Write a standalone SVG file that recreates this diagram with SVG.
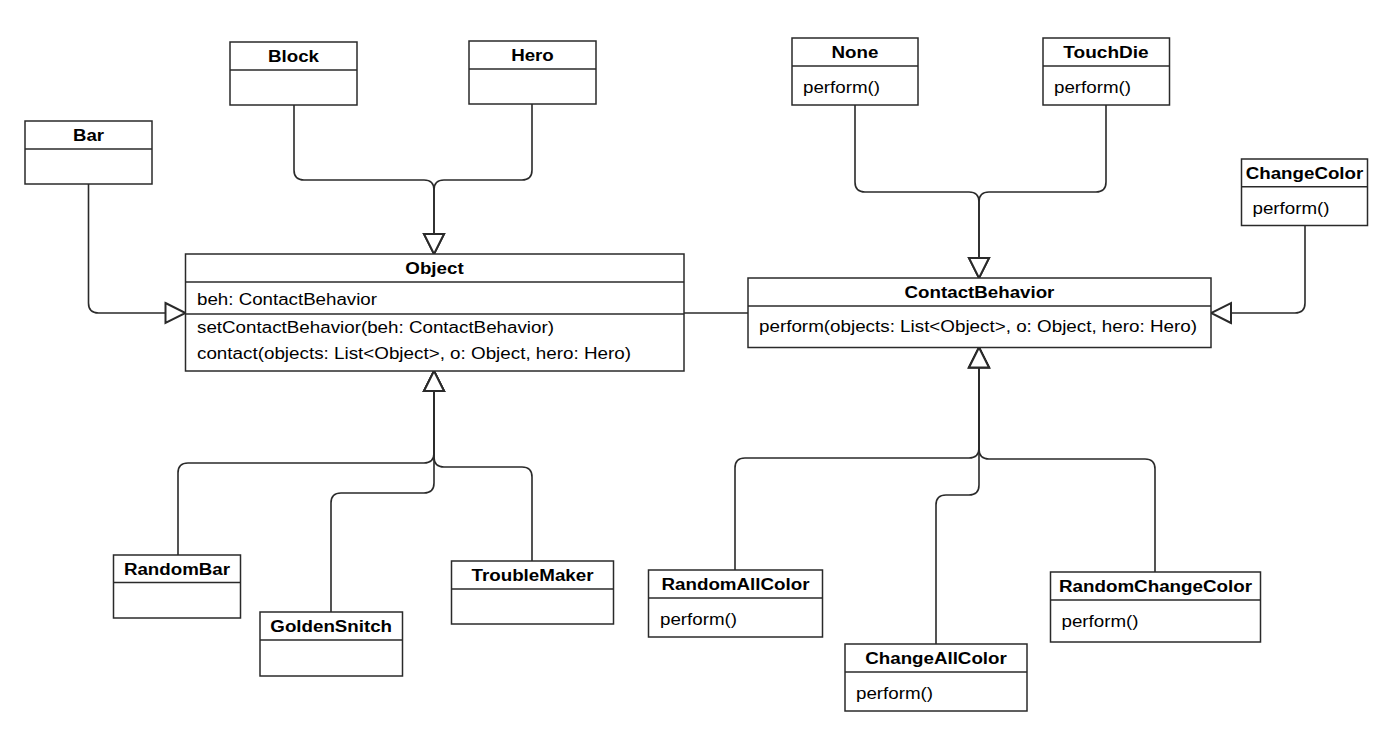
<svg xmlns="http://www.w3.org/2000/svg" width="1382" height="738" viewBox="0 0 1382 738">
<style>
  .box { fill: #ffffff; stroke: #2a2a2a; stroke-width: 1.5; }
  .div { stroke: #2a2a2a; stroke-width: 1.5; fill: none; }
  .t { font-family: "Liberation Sans", Arial, sans-serif; font-size: 16px; fill: #000; }
  .title { font-weight: bold; text-anchor: middle; }
  .edge { fill: none; stroke: #2a2a2a; stroke-width: 1.6; }
  .gen { marker-end: url(#tri); }
</style>
<defs>
  <marker id="tri" markerUnits="userSpaceOnUse" markerWidth="24" markerHeight="24" viewBox="-2 -2 24 24" refX="20" refY="10" orient="auto">
    <path d="M0,0 L20,10 L0,20 Z" fill="#ffffff" stroke="#2a2a2a" stroke-width="2"/>
  </marker>
</defs>
<rect width="1382" height="738" fill="#ffffff"/>

<g id="connectors">
  <path class="edge gen" d="M294,105 V170 Q294,180 304,180 H424 Q434,180 434,190 V254"/>
  <path class="edge gen" d="M532,104 V170 Q532,180 522,180 H444 Q434,180 434,190 V254"/>
  <path class="edge gen" d="M88.5,184 V303 Q88.5,313 98.5,313 H185.5"/>
  <path class="edge" d="M684,313 H748"/>
  <path class="edge gen" d="M855,105 V182 Q855,192 865,192 H969 Q979,192 979,202 V278"/>
  <path class="edge gen" d="M1106,105 V182 Q1106,192 1096,192 H989 Q979,192 979,202 V278"/>
  <path class="edge gen" d="M1305,225.5 V303 Q1305,313 1295,313 H1211"/>
  <path class="edge gen" d="M178,555 V473 Q178,463 188,463 H424 Q434,463 434,453 V371"/>
  <path class="edge gen" d="M331,612 V503 Q331,493 341,493 H424 Q434,493 434,483 V371"/>
  <path class="edge gen" d="M532,561 V477 Q532,467 522,467 H444 Q434,467 434,457 V371"/>
  <path class="edge gen" d="M735,570 V468 Q735,458 745,458 H969 Q979,458 979,448 V347.5"/>
  <path class="edge gen" d="M936,644 V505 Q936,495 946,495 H969 Q979,495 979,485 V347.5"/>
  <path class="edge gen" d="M1155,572 V469 Q1155,459 1145,459 H989 Q979,459 979,449 V347.5"/>
</g>

<g id="Bar">
  <rect class="box" x="25" y="121" width="127" height="63"/>
  <line class="div" x1="25" y1="149" x2="152" y2="149"/>
  <text class="t title" x="88.5" y="141" textLength="31" lengthAdjust="spacingAndGlyphs">Bar</text>
</g>
<g id="Block">
  <rect class="box" x="230" y="42" width="127" height="63"/>
  <line class="div" x1="230" y1="70" x2="357" y2="70"/>
  <text class="t title" x="293.5" y="62" textLength="51" lengthAdjust="spacingAndGlyphs">Block</text>
</g>
<g id="Hero">
  <rect class="box" x="469" y="41" width="127" height="63"/>
  <line class="div" x1="469" y1="69" x2="596" y2="69"/>
  <text class="t title" x="532.5" y="61" textLength="42.6" lengthAdjust="spacingAndGlyphs">Hero</text>
</g>
<g id="Object">
  <rect class="box" x="185.5" y="254" width="498.5" height="117"/>
  <line class="div" x1="185.5" y1="282" x2="684" y2="282"/>
  <line class="div" x1="185.5" y1="314" x2="684" y2="314"/>
  <text class="t title" x="434.5" y="274" textLength="58.3" lengthAdjust="spacingAndGlyphs">Object</text>
  <text class="t" x="197" y="305" textLength="180" lengthAdjust="spacingAndGlyphs">beh: ContactBehavior</text>
  <text class="t" x="197" y="333" textLength="357" lengthAdjust="spacingAndGlyphs">setContactBehavior(beh: ContactBehavior)</text>
  <text class="t" x="197" y="359" textLength="434" lengthAdjust="spacingAndGlyphs">contact(objects: List&lt;Object&gt;, o: Object, hero: Hero)</text>
</g>
<g id="None">
  <rect class="box" x="792" y="38" width="126" height="67"/>
  <line class="div" x1="792" y1="66" x2="918" y2="66"/>
  <text class="t title" x="855" y="58" textLength="46.8" lengthAdjust="spacingAndGlyphs">None</text>
  <text class="t" x="803" y="93" textLength="77" lengthAdjust="spacingAndGlyphs">perform()</text>
</g>
<g id="TouchDie">
  <rect class="box" x="1043" y="38" width="126.5" height="67"/>
  <line class="div" x1="1043" y1="66" x2="1169.5" y2="66"/>
  <text class="t title" x="1106" y="58" textLength="85.3" lengthAdjust="spacingAndGlyphs">TouchDie</text>
  <text class="t" x="1054" y="93" textLength="77" lengthAdjust="spacingAndGlyphs">perform()</text>
</g>
<g id="ChangeColor">
  <rect class="box" x="1241.5" y="159" width="126" height="66.5"/>
  <line class="div" x1="1241.5" y1="186.7" x2="1367.5" y2="186.7"/>
  <text class="t title" x="1304.5" y="179" textLength="117.5" lengthAdjust="spacingAndGlyphs">ChangeColor</text>
  <text class="t" x="1252.5" y="214" textLength="77" lengthAdjust="spacingAndGlyphs">perform()</text>
</g>
<g id="ContactBehavior">
  <rect class="box" x="748" y="278" width="463" height="69.5"/>
  <line class="div" x1="748" y1="306" x2="1211" y2="306"/>
  <text class="t title" x="979.5" y="298" textLength="149.8" lengthAdjust="spacingAndGlyphs">ContactBehavior</text>
  <text class="t" x="759" y="332" textLength="438" lengthAdjust="spacingAndGlyphs">perform(objects: List&lt;Object&gt;, o: Object, hero: Hero)</text>
</g>
<g id="RandomBar">
  <rect class="box" x="113.5" y="555" width="127" height="63"/>
  <line class="div" x1="113.5" y1="582.5" x2="240.5" y2="582.5"/>
  <text class="t title" x="177" y="575" textLength="106.1" lengthAdjust="spacingAndGlyphs">RandomBar</text>
</g>
<g id="GoldenSnitch">
  <rect class="box" x="260" y="612" width="142.5" height="64"/>
  <line class="div" x1="260" y1="640" x2="402.5" y2="640"/>
  <text class="t title" x="331.2" y="632" textLength="121.7" lengthAdjust="spacingAndGlyphs">GoldenSnitch</text>
</g>
<g id="TroubleMaker">
  <rect class="box" x="451.5" y="561" width="162" height="63"/>
  <line class="div" x1="451.5" y1="589" x2="613.5" y2="589"/>
  <text class="t title" x="532.5" y="581" textLength="122" lengthAdjust="spacingAndGlyphs">TroubleMaker</text>
</g>
<g id="RandomAllColor">
  <rect class="box" x="648.5" y="570" width="174" height="67"/>
  <line class="div" x1="648.5" y1="598" x2="822.5" y2="598"/>
  <text class="t title" x="735.5" y="590" textLength="148" lengthAdjust="spacingAndGlyphs">RandomAllColor</text>
  <text class="t" x="660" y="625" textLength="77" lengthAdjust="spacingAndGlyphs">perform()</text>
</g>
<g id="ChangeAllColor">
  <rect class="box" x="845" y="644" width="182" height="67"/>
  <line class="div" x1="845" y1="672" x2="1027" y2="672"/>
  <text class="t title" x="936" y="664" textLength="141.5" lengthAdjust="spacingAndGlyphs">ChangeAllColor</text>
  <text class="t" x="856" y="699" textLength="77" lengthAdjust="spacingAndGlyphs">perform()</text>
</g>
<g id="RandomChangeColor">
  <rect class="box" x="1050.5" y="572" width="210" height="70"/>
  <line class="div" x1="1050.5" y1="600" x2="1260.5" y2="600"/>
  <text class="t title" x="1155.5" y="592" textLength="193" lengthAdjust="spacingAndGlyphs">RandomChangeColor</text>
  <text class="t" x="1061.5" y="627" textLength="77" lengthAdjust="spacingAndGlyphs">perform()</text>
</g>
</svg>
